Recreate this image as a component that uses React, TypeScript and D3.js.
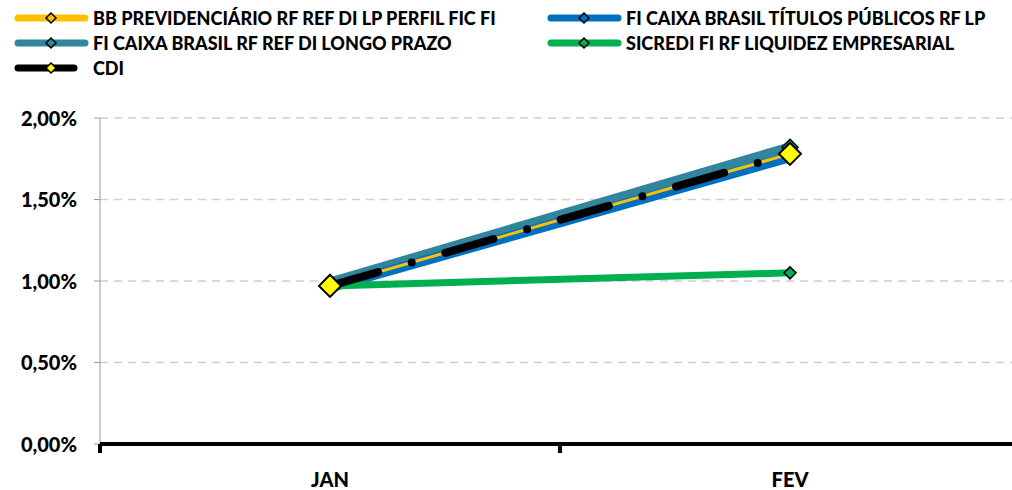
import React from "react";
import * as d3 from "d3";

const categories = ["JAN", "FEV"];
const seriesNames = [
  "BB PREVIDENCIÁRIO RF REF DI LP PERFIL FIC FI",
  "FI CAIXA BRASIL TÍTULOS PÚBLICOS RF LP",
  "FI CAIXA BRASIL RF REF DI LONGO PRAZO",
  "SICREDI FI RF LIQUIDEZ EMPRESARIAL",
  "CDI",
];
const bbValues = [0.97, 1.78];
const titulosValues = [0.96, 1.76];
const longoValues = [0.99, 1.82];
const sicrediValues = [0.97, 1.05];
const cdiValues = [0.97, 1.78];
const yTicks = [0, 0.5, 1, 1.5, 2];

const W = 1012;
const H = 490;
const FONT = "Lato, 'Open Sans', sans-serif";

export default function App() {
  const x = d3.scaleBand<string>().domain(categories).range([100, 1020]);
  const y = d3.scaleLinear().domain([0, 2]).range([444, 118]);
  const cx = (c: string) => (x(c) ?? 0) + x.bandwidth() / 2;
  const line = (vals: number[]) =>
    d3.line<number>().x((_, i) => cx(categories[i])).y((v) => y(v))(vals) ?? "";
  const fmt = (v: number) => v.toFixed(2).replace(".", ",") + "%";
  const diamond = (px: number, py: number, r: number) =>
    `M${px},${py - r}L${px + r},${py}L${px},${py + r}L${px - r},${py}Z`;

  const legend = [
    { name: seriesNames[0], color: "#FFC000", lx: 15, ly: 18, mfill: "#FFC000", w: 73 },
    { name: seriesNames[1], color: "#0070C0", lx: 548, ly: 18, mfill: "#0070C0", w: 73 },
    { name: seriesNames[2], color: "#31859C", lx: 15, ly: 43, mfill: "#31859C", w: 73 },
    { name: seriesNames[3], color: "#00B050", lx: 548, ly: 43, mfill: "#00B050", w: 73 },
    { name: seriesNames[4], color: "#000000", lx: 15, ly: 68, mfill: "#FFFF00", w: 62 },
  ];

  return (
    <svg width={W} height={H} style={{ display: "block", position: "absolute", left: 0, top: 0 }}>
      <rect width={W} height={H} fill="#fff" />
      {/* legend */}
      {legend.map((l, i) => (
        <g key={i}>
          <line x1={l.lx + 3} x2={l.lx + l.w - 3} y1={l.ly} y2={l.ly} stroke={l.color} strokeWidth={7} strokeLinecap="round" />
          <path d={diamond(l.lx + 36, l.ly, 5)} fill={l.mfill} stroke="#000" strokeWidth={1.5} />
          <text x={l.lx + 78} y={l.ly + 6.5} fontFamily={FONT} fontWeight={900} fontSize={18} fill="#000">
            {l.name}
          </text>
        </g>
      ))}
      {/* gridlines */}
      {yTicks.filter((t) => t > 0).map((t) => (
        <line key={t} x1={100} x2={1012} y1={y(t)} y2={y(t)} stroke="#d0d0d0" strokeWidth={1.5} strokeDasharray="8 6" />
      ))}
      {/* y axis */}
      <line x1={100} x2={100} y1={118} y2={444} stroke="#999" strokeWidth={1} />
      {yTicks.map((t) => (
        <g key={t}>
          <line x1={94} x2={100} y1={y(t)} y2={y(t)} stroke="#999" strokeWidth={1} />
          <text x={77} y={y(t) + 7.5} textAnchor="end" fontFamily={FONT} fontWeight={900} fontSize={20}>
            {fmt(t)}
          </text>
        </g>
      ))}
      {/* x axis */}
      <line x1={100} x2={1012} y1={444} y2={444} stroke="#000" strokeWidth={4} />
      {[100, 100 + x.step()].map((tx) => (
        <line key={tx} x1={tx} x2={tx} y1={444} y2={453} stroke="#000" strokeWidth={4} />
      ))}
      {categories.map((c) => (
        <text key={c} x={cx(c)} y={487} textAnchor="middle" fontFamily={FONT} fontWeight={900} fontSize={20}>
          {c}
        </text>
      ))}
      {/* series */}
      <path d={line(longoValues)} fill="none" stroke="#31859C" strokeWidth={10} />
      <path d={line(titulosValues)} fill="none" stroke="#0070C0" strokeWidth={10} />
      <path d={line(sicrediValues)} fill="none" stroke="#00B050" strokeWidth={7} />
      <path d={line(bbValues)} fill="none" stroke="#FFC000" strokeWidth={3} />
      {longoValues.map((v, i) => (
        <path key={"lm" + i} d={diamond(cx(categories[i]), y(v), 8)} fill="#31859C" stroke="#000" strokeWidth={1.5} />
      ))}
      {sicrediValues.map((v, i) => (
        <path key={"sm" + i} d={diamond(cx(categories[i]), y(v), 6)} fill="#00B050" stroke="#000" strokeWidth={1.5} />
      ))}
      <path
        d={line(cdiValues)}
        fill="none"
        stroke="#000"
        strokeWidth={8}
        strokeLinecap="round"
        strokeDasharray="50 35 0 35"
      />
      {cdiValues.map((v, i) => (
        <path key={"cm" + i} d={diamond(cx(categories[i]), y(v), 11)} fill="#FFFF00" stroke="#000" strokeWidth={2} />
      ))}
    </svg>
  );
}
